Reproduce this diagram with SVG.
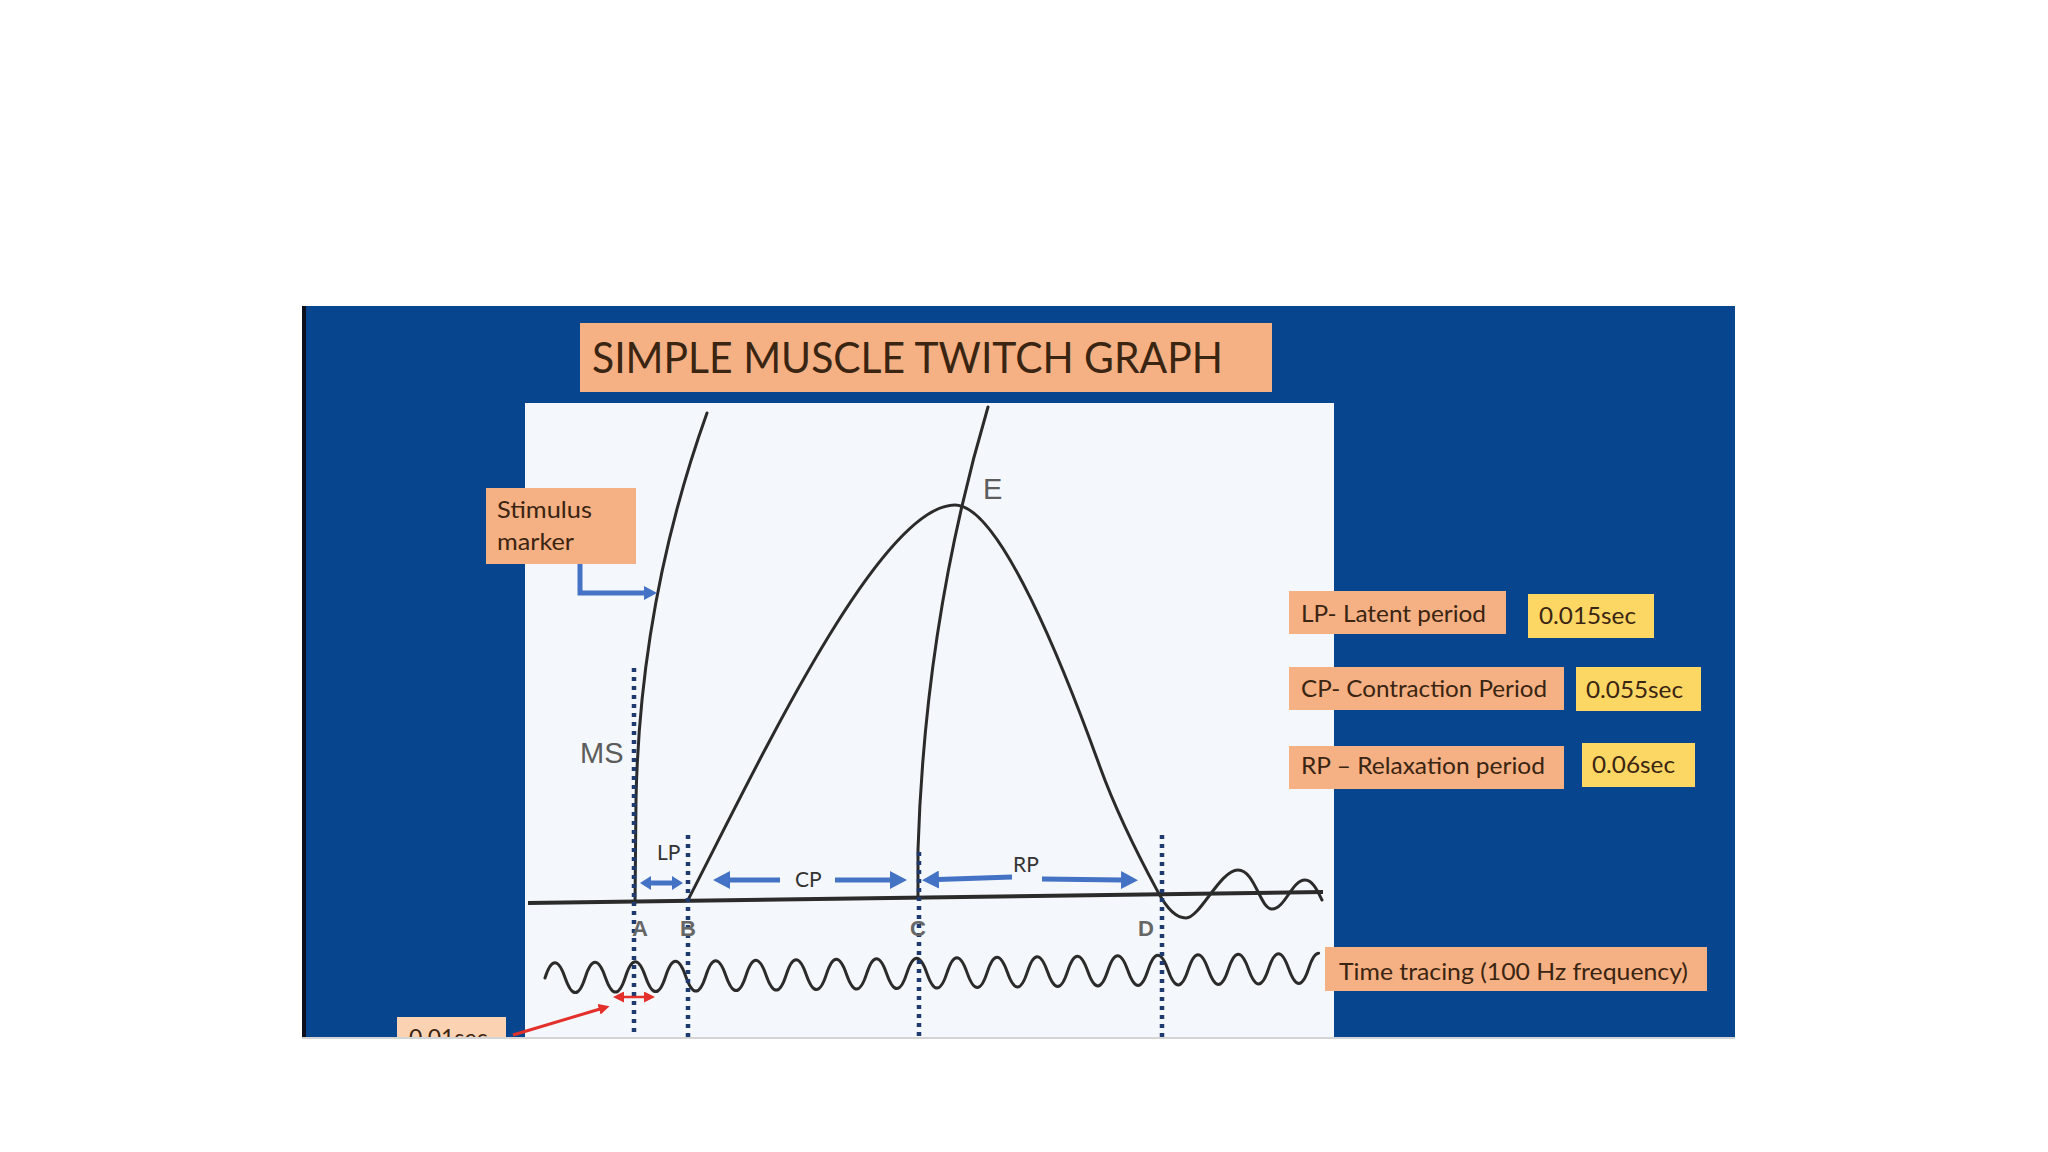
<svg xmlns="http://www.w3.org/2000/svg" width="2048" height="1152" viewBox="0 0 2048 1152">
<defs>
<style>
.lbl{font-family:Lato,"Liberation Sans",sans-serif;fill:#3a2412;}
.small{font-family:Lato,"Liberation Sans",sans-serif;fill:#333;font-size:21px;}
.gray{font-family:"Liberation Sans",Arial,sans-serif;fill:#5c5c5c;}
.pt{font-family:"Liberation Sans",Arial,sans-serif;fill:#666;font-size:22px;font-weight:bold;}
.orange{fill:#f5b183;}
.yellow{fill:#fdd764;}
.curve{fill:none;stroke:#2b2b2b;stroke-width:3;stroke-linecap:round;stroke-linejoin:round;}
.dot{fill:none;stroke:#1e3a6e;stroke-width:4.5;stroke-dasharray:4 5;}
.blue{fill:none;stroke:#4472c4;stroke-width:5;}
.red{fill:none;stroke:#e3302a;}
</style>
<marker id="hb" markerUnits="userSpaceOnUse" markerWidth="17" markerHeight="18" viewBox="0 0 17 18" refX="1" refY="9" orient="auto-start-reverse">
<path d="M0,0 L17,9 L0,18 z" fill="#4472c4"/>
</marker>
<marker id="hbs" markerUnits="userSpaceOnUse" markerWidth="11" markerHeight="14" viewBox="0 0 11 14" refX="1" refY="7" orient="auto-start-reverse">
<path d="M0,0 L11,7 L0,14 z" fill="#4472c4"/>
</marker>
<marker id="hbm" markerUnits="userSpaceOnUse" markerWidth="13" markerHeight="14" viewBox="0 0 13 14" refX="1" refY="7" orient="auto-start-reverse">
<path d="M0,0 L13,7 L0,14 z" fill="#4472c4"/>
</marker>
<marker id="hr" markerUnits="userSpaceOnUse" markerWidth="11" markerHeight="11" viewBox="0 0 11 11" refX="1" refY="5.5" orient="auto-start-reverse">
<path d="M0,0 L11,5.5 L0,11 z" fill="#e3302a"/>
</marker>
<clipPath id="slide"><rect x="302" y="306" width="1433" height="731"/></clipPath>
</defs>
<rect width="2048" height="1152" fill="#ffffff"/>
<g clip-path="url(#slide)">
<rect x="302" y="306" width="1433" height="731" fill="#07468e"/>
<rect x="302" y="306" width="4" height="731" fill="#0b0f1e"/>
<rect id="plot-area" x="525" y="403" width="809" height="640" fill="#f4f7fb"/>

<g id="title">
<rect class="orange" x="580" y="323" width="692" height="69"/>
<text class="lbl" x="592" y="373" font-size="43" textLength="631" lengthAdjust="spacingAndGlyphs">SIMPLE MUSCLE TWITCH GRAPH</text>
</g>

<g id="traces">
<line x1="528" y1="903" x2="1323" y2="892" stroke="#2b2b2b" stroke-width="4"/>
<path id="stimulus-trace-1" class="curve" d="M707,413 Q640,600 636,800 L635,903"/>
<path id="stimulus-trace-2" class="curve" d="M988,407 Q925,620 918,850 L918,898"/>
<path id="twitch-curve" class="curve" d="M688,900 C760,760 880,505 955,505 C1000,505 1065,670 1100,767 C1120,822 1145,868 1158,892 C1166,907 1175,918 1186,918 C1200,918 1220,870 1238,870 C1255,870 1260,909 1272,909 C1285,909 1292,880 1305,880 C1313,880 1318,892 1322,900"/>
<path id="time-trace" class="curve" transform="rotate(-0.73 545 978)" d="M545,978 q10.05,-30 20.1,0
 t20.1,0 t20.1,0 t20.1,0 t20.1,0 t20.1,0
 t20.1,0 t20.1,0 t20.1,0 t20.1,0 t20.1,0
 t20.1,0 t20.1,0 t20.1,0 t20.1,0 t20.1,0
 t20.1,0 t20.1,0 t20.1,0 t20.1,0 t20.1,0
 t20.1,0 t20.1,0 t20.1,0 t20.1,0 t20.1,0
 t20.1,0 t20.1,0 t20.1,0 t20.1,0 t20.1,0
 t20.1,0 t20.1,0 t20.1,0 t20.1,0 t20.1,0
 t20.1,0 t20.1,0
 q5.025,-15 10.05,-15"/>
</g>

<g id="dotted-markers">
<path class="dot" d="M634,668 V1040"/>
<path class="dot" d="M688,835 V1040"/>
<path class="dot" d="M919,852 V1040"/>
<path class="dot" d="M1162,835 V1040"/>
</g>

<g id="point-labels">
<text class="pt" x="640" y="936" text-anchor="middle">A</text>
<text class="pt" x="688" y="936" text-anchor="middle">B</text>
<text class="pt" x="918" y="936" text-anchor="middle">C</text>
<text class="pt" x="1146" y="936" text-anchor="middle">D</text>
<text class="gray" x="983" y="499" font-size="29">E</text>
<text class="gray" x="580" y="763" font-size="29">MS</text>
<text class="small" x="657" y="860">LP</text>
<text class="small" x="795" y="887">CP</text>
<text class="small" x="1013" y="872">RP</text>
</g>

<g id="connectors">
<path class="blue" stroke-width="4" d="M580,563 V593 H645" marker-end="url(#hbm)"/>
<path class="blue" d="M650,883 H673" marker-start="url(#hbs)" marker-end="url(#hbs)"/>
<path class="blue" d="M729,880 H780" marker-start="url(#hb)"/>
<path class="blue" d="M835,880 H891" marker-end="url(#hb)"/>
<path class="blue" d="M938,879.6 L1012,877" marker-start="url(#hb)"/>
<path class="blue" d="M1042,879 L1122,880" marker-end="url(#hb)"/>
<path class="red" stroke-width="2.5" d="M623,997 H645" marker-start="url(#hr)" marker-end="url(#hr)"/>
<path class="red" stroke-width="3" d="M513,1035 L600,1009" marker-end="url(#hr)"/>
</g>

<g id="stimulus-marker">
<rect class="orange" x="486" y="488" width="150" height="76"/>
<text class="lbl" x="497" y="518" font-size="23" textLength="95" lengthAdjust="spacingAndGlyphs">Stimulus</text>
<text class="lbl" x="497" y="550" font-size="23" textLength="77" lengthAdjust="spacingAndGlyphs">marker</text>
</g>

<g id="lp-legend">
<rect class="orange" x="1289" y="591" width="217" height="43"/>
<text class="lbl" x="1301" y="622" font-size="23" textLength="185" lengthAdjust="spacingAndGlyphs">LP- Latent period</text>
<rect class="yellow" x="1528" y="594" width="126" height="44"/>
<text class="lbl" x="1539" y="624" font-size="23" textLength="97" lengthAdjust="spacingAndGlyphs">0.015sec</text>
</g>

<g id="cp-legend">
<rect class="orange" x="1289" y="667" width="275" height="43"/>
<text class="lbl" x="1301" y="697" font-size="23" textLength="246" lengthAdjust="spacingAndGlyphs">CP- Contraction Period</text>
<rect class="yellow" x="1576" y="667" width="125" height="44"/>
<text class="lbl" x="1586" y="698" font-size="23" textLength="97" lengthAdjust="spacingAndGlyphs">0.055sec</text>
</g>

<g id="rp-legend">
<rect class="orange" x="1289" y="746" width="275" height="43"/>
<text class="lbl" x="1301" y="774" font-size="23" textLength="244" lengthAdjust="spacingAndGlyphs">RP – Relaxation period</text>
<rect class="yellow" x="1582" y="743" width="113" height="44"/>
<text class="lbl" x="1592" y="773" font-size="23" textLength="83" lengthAdjust="spacingAndGlyphs">0.06sec</text>
</g>

<g id="time-tracing-label">
<rect class="orange" x="1325" y="947" width="382" height="44"/>
<text class="lbl" x="1339" y="980" font-size="23" textLength="349" lengthAdjust="spacingAndGlyphs">Time tracing (100 Hz frequency)</text>
</g>

<g id="interval-label">
<rect x="397" y="1017" width="109" height="40" fill="#fbd3b3"/>
<text class="lbl" x="409" y="1046" font-size="23">0.01sec</text>
</g>
</g>
<line x1="302" y1="1038" x2="1735" y2="1038" stroke="#d4d4d4" stroke-width="2"/>
</svg>
